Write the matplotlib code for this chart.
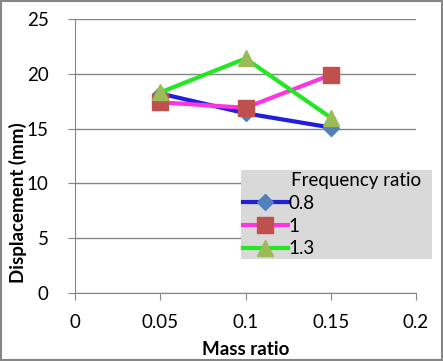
import matplotlib.pyplot as plt
from matplotlib.patches import Rectangle

plt.rcParams['font.family'] = ['Lato', 'DejaVu Sans']

mass_ratio = [0.05, 0.1, 0.15]
disp_08 = [18.2, 16.4, 15.1]
disp_10 = [17.4, 16.9, 19.9]
disp_13 = [18.3, 21.4, 16.0]
series_labels = ['0.8', '1', '1.3']

fig = plt.figure(figsize=(4.43, 3.61), dpi=100)
ax = fig.add_axes([75/443, 1-293/361, 341/443, 274/361])

ax.plot(mass_ratio, disp_08, color='#1f1fdc', lw=3, marker='D', ms=8,
        mfc='#4f81bd', mec='#4f81bd', label=series_labels[0])
ax.plot(mass_ratio, disp_10, color='#ff33e0', lw=3, marker='s', ms=11,
        mfc='#c0504d', mec='#c0504d', label=series_labels[1])
ax.plot(mass_ratio, disp_13, color='#22e822', lw=3, marker='^', ms=12,
        mfc='#9bbb59', mec='#9bbb59', label=series_labels[2])

ax.set_xlim(0, 0.2)
ax.set_ylim(0, 25)
ax.set_xticks([0, 0.05, 0.1, 0.15, 0.2])
ax.set_xticklabels(['0', '0.05', '0.1', '0.15', '0.2'])
ax.set_yticks([0, 5, 10, 15, 20, 25])
ax.grid(axis='y', color='#868686', lw=1)
ax.set_axisbelow(True)
for s in ['top', 'right']:
    ax.spines[s].set_visible(False)
for s in ['left', 'bottom']:
    ax.spines[s].set_color('#868686')
ax.tick_params(colors='#868686', labelcolor='black', labelsize=13.5, length=5)
ax.tick_params(axis='y', pad=14)
ax.tick_params(axis='x', pad=10)
ax.set_xlabel('Mass ratio', fontsize=13.5, fontweight='bold', labelpad=7)
ax.set_ylabel('Displacement (mm)', fontsize=13.5, fontweight='bold')
ax.yaxis.set_label_coords(-0.14, 0.33)

leg = ax.legend(title='Frequency ratio', loc='lower left',
                bbox_to_anchor=(166/341, (293-259)/274, 191/341, 92/274),
                mode='expand', fontsize=13.5, title_fontsize=13.5,
                fancybox=False, framealpha=1, facecolor='#d9d9d9', edgecolor='none',
                handlelength=2.4, handletextpad=0.05, labelspacing=0.3,
                borderpad=0.1, borderaxespad=0)
leg._legend_box.align = 'left'
leg.get_title().set_position((48, 0))

fig.patches.append(Rectangle((0.002, 0.002), 0.996, 0.996, transform=fig.transFigure,
                             fill=False, edgecolor='#868686', lw=1.5))

fig.savefig('out.png', dpi=100)
